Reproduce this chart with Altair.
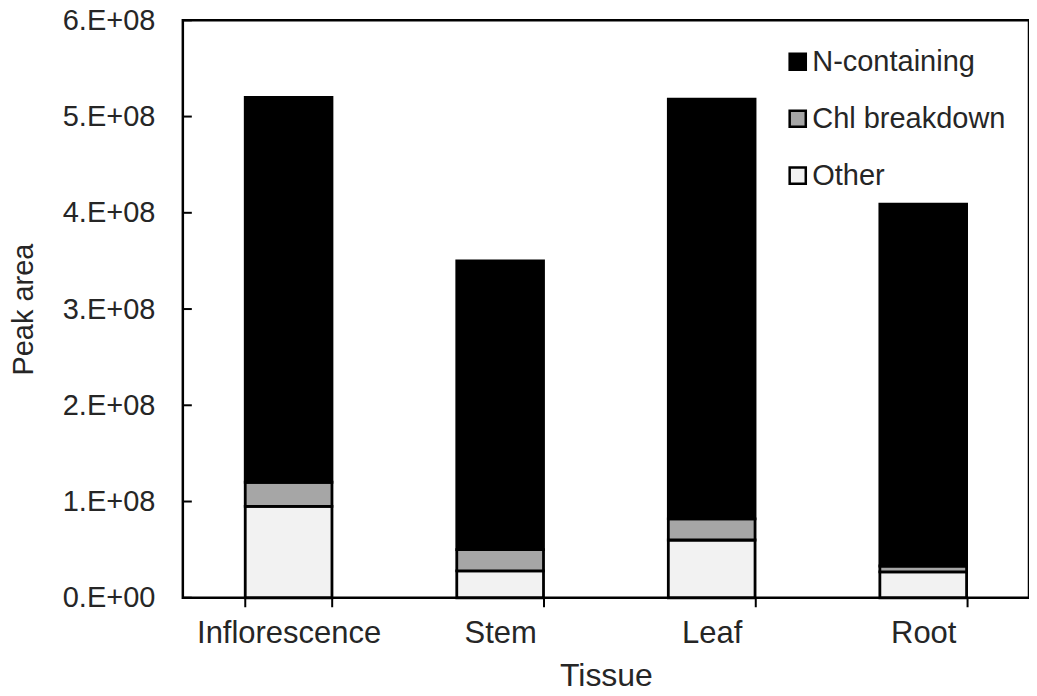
import altair as alt
import pandas as pd

tissues = ["Inflorescence", "Stem", "Leaf", "Root"]
groups = ["N-containing", "Chl breakdown", "Other"]
other = [0.95e8, 0.28e8, 0.60e8, 0.27e8]
chl = [0.25e8, 0.22e8, 0.22e8, 0.06e8]
ncont = [4.00e8, 3.00e8, 4.36e8, 3.76e8]
y_ticks = [0, 1e8, 2e8, 3e8, 4e8, 5e8, 6e8]
colors = ["#000000", "#a6a6a6", "#f2f2f2"]

rows = []
for i, t in enumerate(tissues):
    rows.append({"Tissue": t, "Group": "Other", "Value": other[i], "ord": 0})
    rows.append({"Tissue": t, "Group": "Chl breakdown", "Value": chl[i], "ord": 1})
    rows.append({"Tissue": t, "Group": "N-containing", "Value": ncont[i], "ord": 2})
df = pd.DataFrame(rows)
ticks_df = pd.DataFrame({"v": y_ticks})

FONT = "Liberation Sans"
TXT = "#262626"

bars = alt.Chart(df).mark_bar(stroke="black", strokeWidth=2.8).encode(
    x=alt.X("Tissue:N", sort=tissues,
            scale=alt.Scale(paddingInner=0.59, paddingOuter=0.295),
            axis=alt.Axis(title="Tissue", labelAngle=0, tickBand="extent",
                          domain=False, tickColor="black", tickWidth=2, tickSize=9,
                          labelFontSize=31, labelPadding=12, labelLimit=400,
                          titleFontSize=32, titlePadding=12,
                          labelColor=TXT, titleColor=TXT,
                          labelFont=FONT, titleFont=FONT, titleFontWeight="normal")),
    y=alt.Y("Value:Q", stack="zero",
            scale=alt.Scale(domain=[0, 6e8], nice=False),
            axis=alt.Axis(title="Peak area", values=y_ticks, grid=False,
                          ticks=False, domain=False,
                          labelExpr="datum.value == 0 ? '0.E+00' : format(datum.value/1e8, 'd') + '.E+08'",
                          labelFontSize=29, labelPadding=28, titleFontSize=29,
                          titlePadding=24, labelColor=TXT, titleColor=TXT,
                          labelFont=FONT, titleFont=FONT, titleFontWeight="normal")),
    color=alt.Color("Group:N", scale=alt.Scale(domain=groups, range=colors),
                    legend=alt.Legend(title=None, orient="none", legendX=601, legendY=27,
                                      symbolType="square", symbolSize=260,
                                      symbolStrokeColor="black", symbolStrokeWidth=2.5,
                                      labelFontSize=29, labelFont=FONT, labelColor=TXT,
                                      labelLimit=400, rowPadding=27, labelOffset=0,
                                      padding=0)),
    order=alt.Order("ord:Q", sort="ascending"),
)

yticks = alt.Chart(ticks_df).mark_rule(color="black", strokeWidth=2).encode(
    y=alt.Y("v:Q"),
    x=alt.value(0),
    x2=alt.value(9),
)

chart = alt.layer(bars, yticks).properties(
    width=847, height=578,
    background="white",
    autosize=alt.AutoSizeParams(type="none"),
    padding={"left": 175, "top": 12, "right": 0, "bottom": 98},
).configure_view(stroke="black", strokeWidth=2.5)

chart.save("out.html", embed_options={"renderer": "svg", "actions": False})
